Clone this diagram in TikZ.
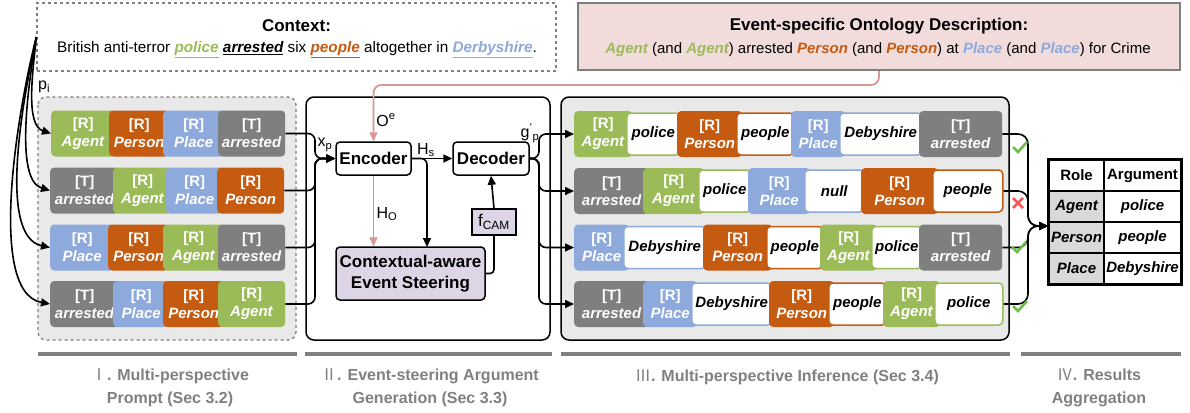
\documentclass[tikz,border=0pt]{standalone}
\usepackage{fontspec}
\setmainfont{Liberation Sans}
\newfontfamily\cjk{Noto Sans CJK SC}
\usetikzlibrary{arrows.meta,positioning}

\definecolor{agentc}{HTML}{9BBB59}
\definecolor{personc}{HTML}{C55A11}
\definecolor{placec}{HTML}{8EA9DB}
\definecolor{trigc}{HTML}{7F7F7F}
\definecolor{ontofill}{HTML}{F2DCDB}
\definecolor{ontoline}{HTML}{D99694}
\definecolor{camfill}{HTML}{DDD5E6}
\definecolor{panelfill}{HTML}{E9E9E9}
\definecolor{cellfill}{HTML}{D9D9D9}
\definecolor{okc}{HTML}{6CC04A}
\definecolor{badc}{HTML}{F0585A}
\definecolor{stagec}{HTML}{808080}

\newcommand\hl[2]{\textcolor{#1}{\bfseries\itshape #2}}
\newcommand\hlu[2]{\textcolor{#1}{\bfseries\itshape\underline{#2}}}
\newcommand\rlab[1]{[R]\\\textit{#1}}
\newcommand\tlab[1]{[T]\\\textit{#1}}

\begin{document}
\begin{tikzpicture}[x=1pt, y=-1pt,
  tok/.style={rounded corners=4, minimum height=46, inner sep=0, anchor=west, align=center, text=white, font=\fontsize{15}{18}\selectfont\bfseries},
  argbox/.style={rounded corners=4, fill=white, line width=1.5, minimum height=42, inner sep=0, anchor=west, font=\fontsize{15}{18}\selectfont\bfseries\itshape},
  blk/.style={draw, line width=1.5, rounded corners=4, inner sep=0, font=\fontsize{17}{21}\selectfont\bfseries},
  lbl/.style={inner sep=0, font=\fontsize{16}{18}\selectfont},
  arr/.style={line width=1.6, -{Triangle[length=9pt, width=8pt]}},
  onto/.style={draw=ontoline, line width=1.8, -{Triangle[length=9pt, width=8pt, fill=ontoline]}},
  cell/.style={draw, line width=1.5, minimum height=31, inner sep=0, font=\fontsize{15}{18}\selectfont\bfseries},
  tick/.style={line width=2.6},
  stage/.style={stagec, line width=4},
  stagelbl/.style={align=center, text=stagec, inner sep=0, font=\fontsize{16}{23}\selectfont\bfseries},
]
\useasboundingbox (0,0) rectangle (1190,412);

% context and ontology
\node[draw=stagec, dashed, line width=1.3, minimum width=519, minimum height=68] (ctx) at (296.5,37) {};
\node[inner sep=0, font=\fontsize{17}{20}\selectfont\bfseries] (ctxhead) at (296.5,26) {Context:};
\node[inner sep=0, font=\fontsize{15.3}{18}\selectfont] (ctxtext) at (297,50) {British anti-terror \hlu{agentc}{police} \hlu{black}{arrested} six \hlu{personc}{people} altogether in \hlu{placec}{Derbyshire}.};

\node[draw=trigc, fill=ontofill, line width=2, minimum width=602, minimum height=67] (onto) at (879,36.5) {};
\node[inner sep=0, font=\fontsize{17}{20}\selectfont\bfseries] (ontohead) at (879,26) {Event-specific Ontology Description:};
\node[inner sep=0, font=\fontsize{15}{18}\selectfont] (ontotext) at (878,50) {\hl{agentc}{Agent} (and \hl{agentc}{Agent}) arrested \hl{personc}{Person} (and \hl{personc}{Person}) at \hl{placec}{Place} (and \hl{placec}{Place}) for Crime};

% panels
\draw[draw=stagec, dashed, line width=1.3, fill=panelfill, rounded corners=8] (38,97) rectangle (296,340);
\draw[line width=1.5, rounded corners=8] (306,97) rectangle (550,340);
\draw[line width=1.5, fill=panelfill, rounded corners=8] (561,97) rectangle (1009,340);

\newcommand\roletok[6]{\node[tok, fill=#5, minimum width=#3-#2] (#1) at (#2,#4) {#6};}
\newcommand\argtok[6]{\node[argbox, draw=#5, minimum width=#3-#2] (#1) at (#2,#4) {#6};}
\newcommand\promptrow[3]{
  \foreach \xa/\xb/\col/\lab [count=\i] in {#3} {\roletok{p#1-\i}{\xa}{\xb}{#2}{\col}{\lab}}
}
\newcommand\inferrow[3]{
  \foreach \xa/\xw/\xb/\col/\lab/\val [count=\i] in {#3} {
    \ifnum\xw=\xb
      \roletok{q#1-\i}{\xa}{\xb}{#2}{\col}{\lab}
    \else
      \roletok{q#1-\i}{\xa}{\xw+6}{#2}{\col}{\lab}
      \argtok{a#1-\i}{\xw}{\xb}{#2}{\col}{\val}
    \fi
  }
}

% multi-perspective prompts
\promptrow{1}{133.5}{51/115/agentc/\rlab{Agent}, 109/169/personc/\rlab{Person}, 163/224/placec/\rlab{Place}, 218/285/trigc/\tlab{arrested}}
\promptrow{2}{190.5}{50/119/trigc/\tlab{arrested}, 113/172/agentc/\rlab{Agent}, 166/223/placec/\rlab{Place}, 217/284/personc/\rlab{Person}}
\promptrow{3}{247.5}{50/114/placec/\rlab{Place}, 108/169/personc/\rlab{Person}, 163/224/agentc/\rlab{Agent}, 218/285/trigc/\tlab{arrested}}
\promptrow{4}{304}{50/119/trigc/\tlab{arrested}, 113/169/placec/\rlab{Place}, 163/224/personc/\rlab{Person}, 218/285/agentc/\rlab{Agent}}

% inference outputs
\inferrow{1}{134}{574/626/679/agentc/\rlab{Agent}/police, 677/736/793/personc/\rlab{Person}/people, 791/839/921/placec/\rlab{Place}/Debyshire, 919/1002/1002/trigc/\tlab{arrested}/-}
\inferrow{2}{191}{574/649/649/trigc/\tlab{arrested}/-, 643/698/750/agentc/\rlab{Agent}/police, 748/804/863/placec/\rlab{Place}/null, 861/932/1002/personc/\rlab{Person}/people}
\inferrow{3}{247.5}{574/623/705/placec/\rlab{Place}/Debyshire, 703/766/822/personc/\rlab{Person}/people, 820/871/921/agentc/\rlab{Agent}/police, 919/1002/1002/trigc/\tlab{arrested}/-}
\inferrow{4}{304}{574/649/649/trigc/\tlab{arrested}/-, 643/691/771/placec/\rlab{Place}/Debyshire, 769/828/885/personc/\rlab{Person}/people, 883/934/1002/agentc/\rlab{Agent}/police}

% context to prompts
\node[lbl, anchor=west] (pi) at (38,87) {p\textsubscript{i}};
\draw[arr] (ctx.west) .. controls (33,70) and (25,125) .. (p1-1.west);
\draw[arr] (ctx.west) .. controls (29,80) and (14,180) .. (p2-1.west);
\draw[arr] (ctx.west) .. controls (25,90) and (-4,236) .. (p3-1.west);
\draw[arr] (ctx.west) .. controls (20,100) and (-15,292) .. (p4-1.west);

% argument generation
\node[blk, minimum width=75, minimum height=33] (enc) at (373.5,158.5) {Encoder};
\node[blk, minimum width=76, minimum height=33] (dec) at (491,158.5) {Decoder};
\node[blk, fill=camfill, align=center, minimum width=149, minimum height=53] (steer) at (410.5,273.5) {Contextual-aware\\Event Steering};
\node[blk, fill=camfill, sharp corners, minimum width=44, minimum height=26, font=\fontsize{17}{20}\selectfont] (fcam) at (494,222) {f\textsubscript{CAM}};

\coordinate (xin) at (315,158.5);
\foreach \r in {1,...,4} \draw[arr, rounded corners=7] (p\r-4.east) -| (xin) -- (enc.west);
\node[lbl] (xp) at (325,145) {x\textsubscript{p}};

\draw[onto, rounded corners=8] (onto.south) -- ++(0,14) -| (enc.north);
\node[lbl] (oe) at (386,120) {O\textsuperscript{e}};

\draw[arr] (enc.east) -- (dec.west);
\node[lbl] (hs) at (426,150) {H\textsubscript{s}};
\coordinate (hsdown) at (427,247);
\draw[arr, rounded corners=6] (enc.east) -| (hsdown);

\draw[onto] (enc.south) -- (enc.south |- steer.north);
\node[lbl] (ho) at (387,214) {H\textsubscript{O}};

\draw[line width=1.6, rounded corners=4] (steer.east) -| (fcam.south);
\draw[arr] (fcam.north) -- (dec.south);

\coordinate (gout) at (539,158.5);
\foreach \r in {1,...,4} \draw[arr, rounded corners=7] (dec.east) -- (gout) |- (q\r-1.west);
\node[lbl] (gp) at (530,133) {g\textsuperscript{'}\textsubscript{p}};

% aggregation table
\node[cell, minimum width=55] (hrole) at (1076.5,175.5) {Role};
\node[cell, minimum width=77] (harg) at (1142.5,175.5) {Argument};
\foreach \ro/\ar [count=\i] in {Agent/police, Person/people, Place/Debyshire} {
  \node[cell, fill=cellfill, minimum width=55, font=\fontsize{15}{18}\selectfont\bfseries\itshape] (role-\i) at (1076.5,175.5+31*\i) {\ro};
  \node[cell, minimum width=77, font=\fontsize{15}{18}\selectfont\bfseries\itshape] (arg-\i) at (1142.5,175.5+31*\i) {\ar};
}
\draw[line width=2.5] (hrole.north west) rectangle (arg-3.south east);

\coordinate (bend) at (1028,226);
\coordinate (aggin) at (1048,226);
\foreach \tail in {q1-4, a2-4, q3-4, a4-4} \draw[arr, rounded corners=10] (\tail.east) -| (bend) -- (aggin);

\foreach \pt in {(1019,148), (1018,248), (1019,307)} \draw[tick, okc] \pt ++(-6,-1) -- ++(5,5) -- ++(9,-10);
\draw[tick, badc] (1013,198) -- (1023,208) (1013,208) -- (1023,198);

% stages
\foreach \xa/\xb in {38/297, 305/552, 561/1010, 1021/1181} \draw[stage] (\xa,354) -- (\xb,354);
\node[stagelbl] (st1) at (170,388) {{\cjk\mdseries Ⅰ}. Multi-perspective\\Prompt (Sec 3.2)};
\node[stagelbl] (st2) at (430,388) {{\cjk\mdseries Ⅱ}. Event-steering Argument\\Generation (Sec 3.3)};
\node[stagelbl] (st3) at (787,377) {{\cjk\mdseries Ⅲ}. Multi-perspective Inference (Sec 3.4)};
\node[stagelbl] (st4) at (1099,388) {{\cjk\mdseries Ⅳ}. Results\\Aggregation};

\end{tikzpicture}
\end{document}
